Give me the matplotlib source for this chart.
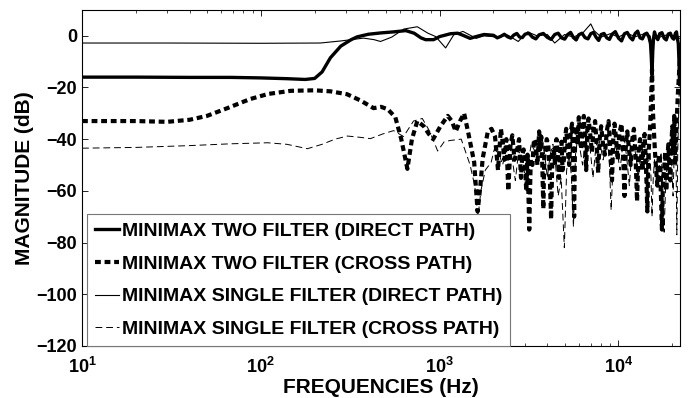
import matplotlib
matplotlib.use('Agg')
import matplotlib.pyplot as plt
from matplotlib.ticker import LogLocator, NullFormatter

# minimax two filter, direct path
f_two_direct = [10, 20, 40, 68, 100, 140, 177, 200, 220, 245, 280, 320, 346, 400, 467,
                550, 647, 720, 786, 834, 925, 1000, 1080, 1150, 1260, 1350, 1480, 1600,
                1770, 2000, 2100, 2200, 2300, 2400, 2500, 2600, 2700, 2800, 2900, 3000,
                3150, 3300, 3450, 3600, 3800, 4000, 4200, 4400, 4600, 4800, 5000, 5200,
                5400, 5600, 5800, 6000, 6250, 6500, 6750, 7000, 7250, 7500, 7750, 8000,
                8300, 8600, 8900, 9200, 9600, 10000, 10400, 10800, 11200, 11600, 12000,
                12400, 12800, 13200, 13600, 14000, 14400, 14800, 15100, 15250, 15400,
                15550, 15700, 15900, 16200, 16600, 17000, 17500, 18000, 18500, 19000,
                19500, 20000, 20400, 20800, 21100, 21300, 21600, 21800, 21950, 22050]
db_two_direct = [-16, -16, -16.1, -16.1, -16.3, -16.6, -16.9, -16.5, -14, -8.5, -4, -1.5,
                 -0.4, 0.6, 1.1, 1.5, 2, 1, -0.8, -1.5, -1.5, -0.3, 0.3, 0.8, 1, 0.2, -1,
                 -0.3, 0.5, 0.2, -0.8, -0.2, 0.6, -0.4, -0.9, 0.3, 0.9, -0.5, -0.7, 0.6,
                 1.0, -0.5, -1.2, 0.4, 0.9, -0.6, -1.4, 0.5, 1.0, -0.8, -1.3, 0.5, 1.3,
                 -0.7, -1.6, 0.4, 1.0, -0.7, -1.2, 0.8, 1.3, -0.6, -1.8, 0.5, 0.9, -0.8,
                 -1.4, 0.6, 1.6, -0.9, -2.0, 0.8, 1.3, -0.6, -1.6, 0.9, 1.8, -0.8, -1.2,
                 0.6, 1.0, -0.5, -3, -8, -15, -6, -1, 1.5, -0.5, -1.5, 0.8, 1.2, -0.9,
                 -1.6, 0.7, 1.0, -0.8, -1.3, 0.9, 1.5, -0.6, -3, -10, -19, -8]

# minimax two filter, cross path
f_two_cross = [10, 20, 30, 40, 50, 65, 87, 110, 147, 200, 245, 303, 360, 427, 470, 512,
               565, 610, 660, 700, 750, 815, 870, 920, 1010, 1110, 1170, 1230, 1300, 1370,
               1450, 1560, 1630, 1690, 1740, 1860, 1950, 2040, 2120, 2200, 2260, 2300,
               2360, 2420, 2490, 2550, 2620, 2700, 2780, 2850, 2900, 2950, 3000, 3050,
               3100, 3170, 3230, 3300, 3370, 3450, 3520, 3600, 3650, 3700, 3750, 3800,
               3850, 3900, 3970, 4050, 4120, 4200, 4270, 4350, 4420, 4500, 4570, 4650,
               4720, 4800, 4870, 4950, 5020, 5100, 5200, 5300, 5400, 5500, 5570, 5650,
               5720, 5800, 5900, 6000, 6100, 6200, 6300, 6400, 6500, 6600, 6700, 6800,
               6950, 7100, 7250, 7400, 7550, 7700, 7850, 8000, 8200, 8400, 8600, 8800,
               9000, 9200, 9350, 9500, 9700, 9900, 10100, 10400, 10600, 10800, 11000,
               11200, 11450, 11700, 11950, 12200, 12450, 12700, 12950, 13200, 13400,
               13600, 13800, 14000, 14250, 14500, 14700, 14900, 15100, 15250, 15400,
               15500, 15600, 15800, 16000, 16250, 16500, 16750, 17000, 17250, 17500,
               17750, 18000, 18250, 18500, 18750, 19000, 19250, 19500, 19750, 20000,
               20250, 20500, 20750, 21000, 21250, 21500, 21800, 22050]
db_two_cross = [-33, -33, -33.3, -32.5, -31, -28, -24.5, -22.5, -21.3, -21.1, -21.5, -22.6,
                -25, -28, -27.5, -28.4, -31.5, -40, -51.5, -40, -33, -35, -38, -40, -35,
                -31, -33, -37, -33, -30, -38, -49, -68, -58, -47.5, -37, -36, -39, -52,
                -36, -42, -48, -40, -60, -42, -38.5, -48, -45, -40, -55, -46, -44, -50,
                -60, -46, -75, -48, -50, -40, -42, -50, -37, -44, -39, -50, -67, -45, -45,
                -40, -42, -52, -71, -46, -44, -50, -40, -46, -55, -43, -41, -52, -48, -40,
                -36, -44, -50, -38, -34, -48, -70, -40, -35, -42, -31.5, -38, -44, -36,
                -31, -40, -52, -36, -32, -38, -45, -36, -33, -42, -53, -40, -35, -42, -46,
                -37, -33, -44, -56, -40, -34, -40, -48, -38, -34, -45, -62, -42, -37, -44,
                -50, -40, -36, -46, -64, -45, -40, -46, -52, -42, -38, -50, -68, -46, -40,
                -32, -22, -13, -22, -30, -38, -45, -52, -58, -48, -46, -60, -75, -55, -52,
                -45, -60, -48, -42, -50, -56, -42, -35, -45, -31, -50, -40, -30, -22, -15,
                -9]

# minimax single filter, direct path
f_one_direct = [10, 30, 100, 215, 280, 375, 430, 467, 540, 630, 750, 860, 950, 1080, 1200,
                1350, 1600, 1770, 2100, 2400, 2750, 3100, 3500, 4000, 4400, 5000, 5600,
                6300, 7000, 7300, 8000, 9000, 10000, 11000, 12500, 14000, 15000, 15400,
                15800, 17000, 19000, 21000, 22050]
db_one_direct = [-2.8, -2.8, -2.9, -2.8, -2, -0.9, -1.5, -2.2, -0.5, 2.6, 3.5, 1, -0.3,
                 -4.7, 0.4, 1.7, -1, 0, -0.5, 0.3, -2.2, 1.5, 0, 0.5, -2.8, 0.5, -0.5, 1,
                 4.6, 2, -0.5, 0.8, -0.5, 1, -0.3, 0.8, 0, -3, 0.5, -0.5, 0.5, -0.5, -1]

# minimax single filter, cross path
f_one_cross = [10, 20, 40, 68, 109, 140, 182, 220, 260, 305, 360, 410, 480, 553, 628, 714,
               800, 880, 975, 1060, 1150, 1320, 1480, 1570, 1640, 1700, 1800, 1940, 2020,
               2100, 2180, 2250, 2350, 2450, 2550, 2650, 2750, 2850, 2950, 3050, 3150,
               3250, 3370, 3500, 3620, 3750, 3870, 4000, 4150, 4300, 4450, 4600, 4780,
               4980, 5130, 5300, 5450, 5600, 5750, 5900, 6100, 6300, 6500, 6700, 6950,
               7200, 7450, 7700, 7950, 8200, 8450, 8700, 8900, 9100, 9350, 9600, 9900,
               10200, 10500, 10800, 11150, 11500, 11850, 12200, 12550, 12900, 13250,
               13600, 13950, 14300, 14650, 15000, 15200, 15400, 15650, 15900, 16250,
               16600, 16950, 17300, 17650, 18000, 18350, 18700, 19100, 19500, 19850,
               20200, 20500, 20800, 21000, 21200, 21450, 21700, 21900, 22050]
db_one_cross = [-43.5, -43.2, -42.5, -41.8, -41.4, -42, -43.7, -42, -40, -38.8, -39.3,
                -39.8, -38, -36.7, -39, -33, -32, -37, -44.6, -41, -40.5, -40, -50, -58,
                -70, -60, -52, -49, -44, -45, -47, -50, -44, -42, -48, -56, -46, -44, -50,
                -60, -48, -42, -44, -48, -43, -40, -46, -55, -46, -42, -50, -62, -55, -82,
                -52, -46, -54, -74, -46, -40, -44, -50, -42, -37, -44, -55, -44, -39, -43,
                -48, -44, -40, -50, -67.5, -48, -42, -46, -52, -44, -40, -48, -58, -46,
                -42, -47, -55, -48, -44, -50, -60, -50, -45, -55, -70, -55, -48, -52, -58,
                -50, -45, -56, -76, -58, -50, -45, -40, -50, -62, -45, -35, -50, -77, -45,
                -30, -20, -12]

labels = ['MINIMAX TWO FILTER (DIRECT PATH)',
          'MINIMAX TWO FILTER (CROSS PATH)',
          'MINIMAX SINGLE FILTER (DIRECT PATH)',
          'MINIMAX SINGLE FILTER (CROSS PATH)']

plt.rcParams['font.family'] = ['Liberation Sans', 'DejaVu Sans']
plt.rcParams['font.weight'] = 'bold'
plt.rcParams['mathtext.fontset'] = 'custom'
plt.rcParams['mathtext.rm'] = 'Liberation Sans:bold'
plt.rcParams['mathtext.bf'] = 'Liberation Sans:bold'
plt.rcParams['mathtext.it'] = 'Liberation Sans:bold'

fig = plt.figure(figsize=(6.92, 3.98), dpi=100)
ax = fig.add_axes([0.1185, 0.131, 0.864, 0.844])

ax.semilogx(f_two_cross, db_two_cross, color='black', lw=3.0, ls=(0, (1.4, 0.9)),
            label=labels[1], zorder=2)
ax.semilogx(f_one_cross, db_one_cross, color='black', lw=0.7, ls=(0, (7, 4)),
            label=labels[3], zorder=2)
ax.semilogx(f_one_direct, db_one_direct, color='black', lw=0.8, label=labels[2], zorder=3)
ax.semilogx(f_two_direct, db_two_direct, color='black', lw=2.4, label=labels[0], zorder=4)

ax.set_xlim(10, 22050)
ax.set_ylim(-120, 10)
ax.set_yticks([-120, -100, -80, -60, -40, -20, 0])
ax.set_xticks([10, 100, 1000, 10000])
ax.set_xticklabels([r'$10^{1}$', r'$10^{2}$', r'$10^{3}$', r'$10^{4}$'])
ax.xaxis.set_minor_locator(LogLocator(base=10, subs=range(2, 10)))
ax.xaxis.set_minor_formatter(NullFormatter())
ax.tick_params(which='both', direction='in', top=True, right=True, labelsize=13)
ax.tick_params(axis='x', which='major', pad=8)
ax.tick_params(which='major', length=4, width=0.6)
ax.tick_params(which='minor', length=2.5, width=0.5)
for s in ax.spines.values():
    s.set_linewidth(0.8)

ax.set_xlabel('FREQUENCIES (Hz)', fontsize=15, fontweight='bold', labelpad=1)
ax.set_ylabel('MAGNITUDE (dB)', fontsize=15, fontweight='bold', labelpad=2)

h, l = ax.get_legend_handles_labels()
order = [3, 0, 2, 1]
leg = ax.legend([h[i] for i in order], [l[i] for i in order], loc='lower left',
                bbox_to_anchor=(0.008, 0.0), borderaxespad=0, fancybox=False,
                framealpha=1, edgecolor='#777777', fontsize=14, handlelength=1.25,
                handletextpad=0.15, labelspacing=0.78, borderpad=0.4)
leg.get_frame().set_linewidth(0.8)
leg.set_zorder(10)

plt.savefig('out.png', dpi=100)
